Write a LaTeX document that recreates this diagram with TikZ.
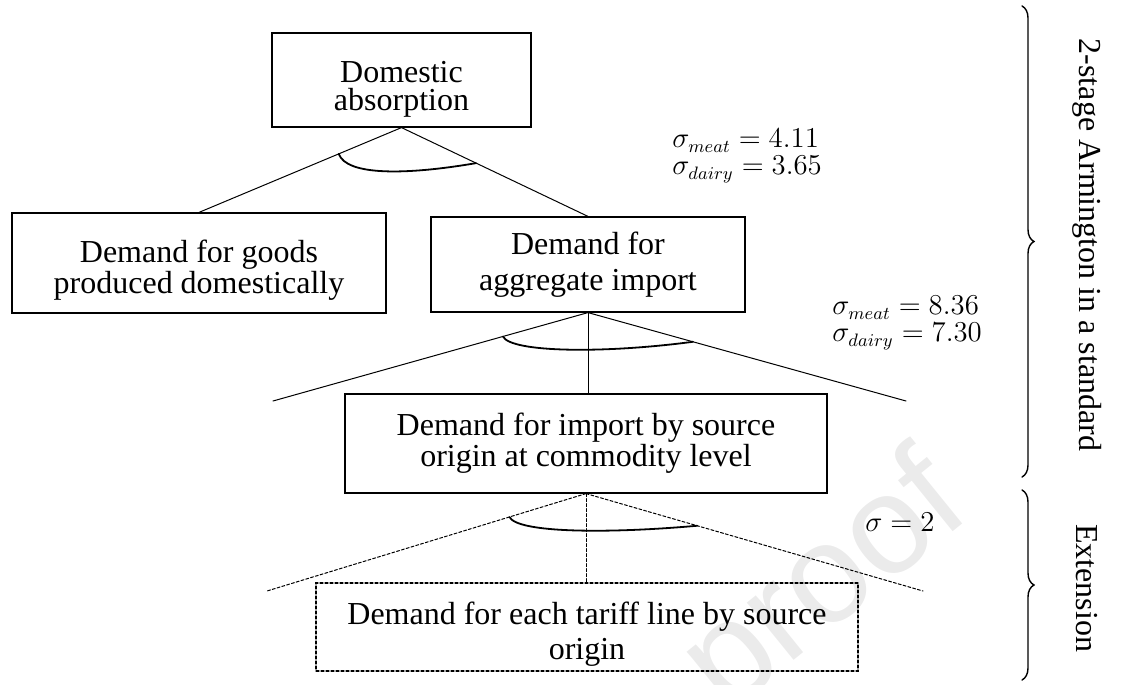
\documentclass[tikz,border=0pt]{standalone}
\usepackage{fontspec}
\setmainfont{Liberation Serif}
\newfontfamily\wmfont{Liberation Sans}
\usepackage{tikz}
\usetikzlibrary{decorations.pathreplacing}

\begin{document}
\begin{tikzpicture}[x=0.5pt,y=-0.5pt,line cap=round,font=\fontsize{16}{14}\selectfont,
  box/.style={draw,line width=0.6pt,align=center,inner sep=0pt},
  dbox/.style={box,dash pattern=on 1.5pt off 1pt},
  branch/.style={line width=0.5pt},
  dbranch/.style={branch,dash pattern=on 1.5pt off 1pt},
  nest/.style={line width=0.9pt},
  elas/.style={anchor=west,align=left,inner sep=0pt,font=\fontsize{13.5}{13.5}\selectfont},
  curly/.style={line width=0.7pt,decorate,decoration={brace,amplitude=6pt}},
  side/.style={rotate=-90}]
\useasboundingbox (0,0) rectangle (1121,685);
\node[rotate=39,text=black!8,font=\wmfont\fontsize{70}{70}\selectfont,anchor=base] (wm) at (850,615) {proof};
\node[box,text height=30pt,text depth=0pt,minimum width=129.5pt,minimum height=47pt,font=\fontsize{16}{13.5}\selectfont] (dom) at (401.5,80) {Domestic\\absorption};
\node[box,text height=30.5pt,text depth=0pt,minimum width=187pt,minimum height=50pt] (home) at (199,263) {Demand for goods\\produced domestically};
\node[box,minimum width=157pt,minimum height=47.5pt,font=\fontsize{16}{18}\selectfont] (agg) at (588,264.5) {Demand for\\aggregate import};
\node[box,minimum width=241pt,minimum height=49.5pt,font=\fontsize{16}{14.5}\selectfont] (src) at (586,443.5) {Demand for import by source\\origin at commodity level};
\node[dbox,text height=32pt,text depth=0pt,minimum width=271pt,minimum height=44pt,font=\fontsize{16}{17.5}\selectfont] (tariff) at (587,627) {Demand for each tariff line by source\\origin};
\coordinate (aggL) at (273,401);
\coordinate (aggR) at (906,401);
\coordinate (srcL) at (267,591);
\coordinate (srcR) at (923,591);
\draw[branch] (dom.south) -- coordinate[pos=0.31] (n1l) (home.north);
\draw[branch] (dom.south) -- coordinate[pos=0.4] (n1r) (agg.north);
\draw[nest] (n1l) .. controls +(8,22) and +(-70,12) .. (n1r);
\draw[branch] (agg.south) -- coordinate[pos=0.27] (n2l) (aggL);
\draw[branch] (agg.south) -- coordinate[pos=0.33] (n2r) (aggR);
\draw[branch] (agg.south) -- (agg.south |- src.north);
\draw[nest] (n2l) .. controls +(8,16) and +(-90,12) .. (n2r);
\draw[dbranch] (src.south) -- coordinate[pos=0.24] (n3l) (srcL);
\draw[dbranch] (src.south) -- coordinate[pos=0.33] (n3r) (srcR);
\draw[dbranch] (src.south) -- (src.south |- tariff.north);
\draw[nest] (n3l) .. controls +(8,16) and +(-90,8) .. (n3r);
\node[elas] (sig1) at (672,156) {$\sigma_{meat}=4.11$\\$\sigma_{dairy}=3.65$};
\node[elas] (sig2) at (832,323) {$\sigma_{meat}=8.36$\\$\sigma_{dairy}=7.30$};
\node[elas] (sig3) at (865,522) {$\sigma=2$};
\draw[curly] (1022,6) -- (1022,477);
\draw[curly] (1022,490) -- (1022,680);
\node[side] (std) at (1087,245) {2-stage Armington in a standard};
\node[side] (ext) at (1087,588) {Extension};
\end{tikzpicture}
\end{document}
